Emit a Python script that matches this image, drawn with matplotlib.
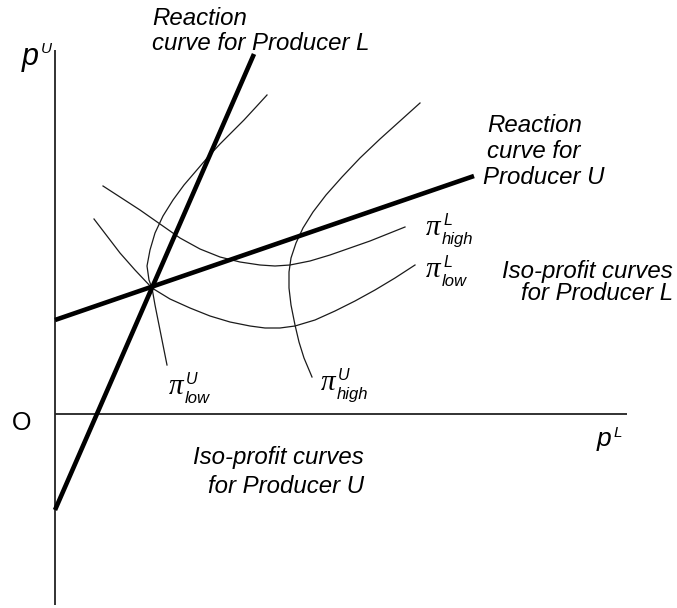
import matplotlib.pyplot as plt

# coordenadas em pixels da figura (y cresce para baixo)
eixo_x = [55, 627]
eixo_y = [50, 605]
origem_y = 414

reacao_L_x = [55, 254]
reacao_L_y = [510, 54]
reacao_U_x = [55, 474]
reacao_U_y = [320, 176]

# curvas de iso-lucro do produtor L
lucro_L_alto_x = [103, 120, 140, 160, 180, 200, 220, 240, 260, 275, 290, 310, 330, 350, 370, 390, 405]
lucro_L_alto_y = [186, 197, 210, 224, 238, 249, 257, 262, 265, 266, 265, 261, 255, 248, 241, 233, 227]
lucro_L_baixo_x = [94, 107, 120, 135, 152, 170, 190, 210, 230, 250, 265, 280, 295, 315, 335, 355, 375, 395, 415]
lucro_L_baixo_y = [219, 236, 253, 270, 288, 299, 308, 316, 322, 326, 328, 328, 326, 320, 311, 301, 290, 278, 265]

# curvas de iso-lucro do produtor U
lucro_U_baixo_x = [267, 256, 244, 232, 220, 208, 196, 184, 173, 163, 155, 150, 147, 149, 152, 155, 159, 163, 167]
lucro_U_baixo_y = [95, 107, 120, 132, 144, 157, 171, 185, 200, 216, 233, 250, 266, 280, 288, 305, 325, 345, 365]
lucro_U_alto_x = [420, 400, 380, 360, 342, 326, 313, 303, 296, 291, 289, 289, 291, 295, 299, 304, 312]
lucro_U_alto_y = [103, 121, 139, 158, 177, 195, 212, 228, 243, 258, 272, 288, 305, 325, 342, 358, 377]

# rótulos pi: (x do pi, y do pi, expoente, índice)
rotulos_pi = [
    (433, 228, "L", "high"),
    (433, 270, "L", "low"),
    (328, 383, "U", "high"),
    (176, 387, "U", "low"),
]

fonte = "Liberation Sans"
tam = 17.3

fig = plt.figure(figsize=(6.77, 6.08), dpi=100)
ax = fig.add_axes([0, 0, 1, 1])
ax.set_xlim(0, 677)
ax.set_ylim(608, 0)
ax.axis("off")

# eixos
ax.plot(eixo_x, [origem_y, origem_y], color="#222222", lw=1.3, solid_capstyle="butt")
ax.plot([eixo_x[0], eixo_x[0]], eixo_y, color="#222222", lw=1.3, solid_capstyle="butt")

# curvas finas
for cx, cy in [(lucro_L_alto_x, lucro_L_alto_y), (lucro_L_baixo_x, lucro_L_baixo_y),
               (lucro_U_baixo_x, lucro_U_baixo_y), (lucro_U_alto_x, lucro_U_alto_y)]:
    ax.plot(cx, cy, color="#1a1a1a", lw=0.9)

# curvas de reação
ax.plot(reacao_L_x, reacao_L_y, color="black", lw=3.3, solid_capstyle="butt")
ax.plot(reacao_U_x, reacao_U_y, color="black", lw=3.3, solid_capstyle="butt")

# textos
def texto(x, y, s, ha="left", size=tam, style="italic"):
    ax.text(x, y, s, ha=ha, va="baseline", fontsize=size, family=fonte, style=style)

texto(152, 25, "Reaction")
texto(152, 50, "curve for Producer L")
texto(487, 132, "Reaction")
texto(487, 158, "curve for")
texto(483, 184, "Producer U")
texto(673, 278, "Iso-profit curves", ha="right")
texto(673, 300, "for Producer L", ha="right")
texto(364, 464, "Iso-profit curves", ha="right")
texto(364, 493, "for Producer U", ha="right")

# rótulos dos eixos
texto(22, 65, "p", size=22)
texto(41, 53, "U", size=11)
texto(597, 446, "p", size=19)
texto(614, 437, "L", size=11)
texto(12, 430, "O", size=18, style="normal")

for px, py, sup, sub in rotulos_pi:
    ax.text(px, py, "\u03c0", ha="center", va="center", fontsize=21,
            family="Liberation Serif", style="italic")
    texto(px + 10, py - 3, sup, size=11.5)
    texto(px + 9, py + 16, sub, size=12)

fig.savefig("out.png", dpi=100)
